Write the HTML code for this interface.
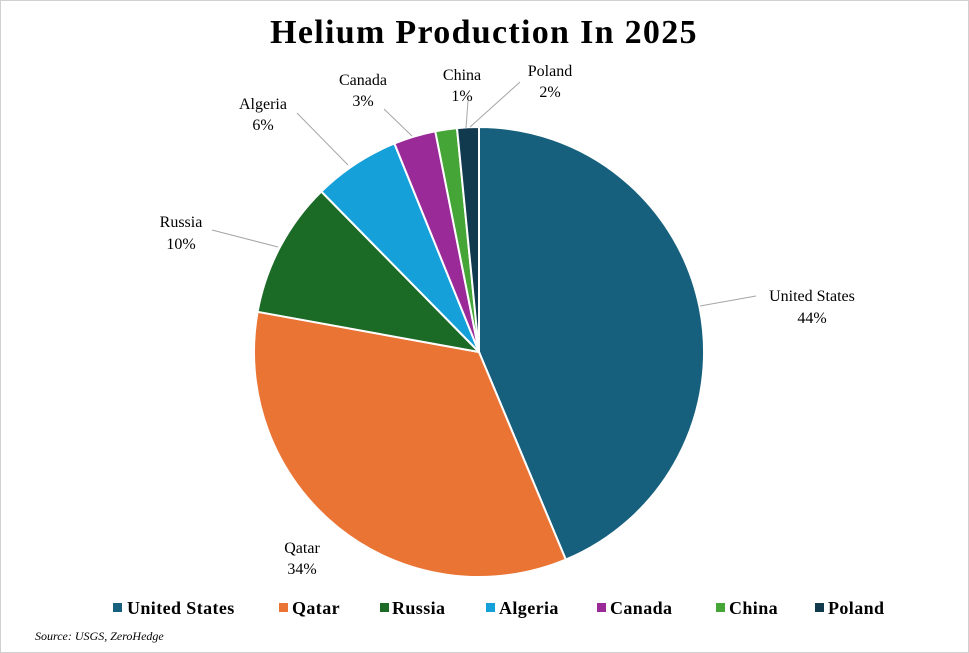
<!DOCTYPE html>
<html><head><meta charset="utf-8"><style>
html,body{margin:0;padding:0;background:#fff;}
svg{display:block;}
text{font-family:"Liberation Serif",serif;}
</style></head><body>
<svg width="969" height="653" viewBox="0 0 969 653" xmlns="http://www.w3.org/2000/svg">
<rect x="0.5" y="0.5" width="968" height="652" fill="#fff" stroke="#d0d0d0"/>
<text x="484" y="43" text-anchor="middle" font-size="34" font-weight="bold" letter-spacing="1.3" fill="#000">Helium Production In 2025</text>
<g stroke="#fff" stroke-width="2" stroke-linejoin="round">
<path d="M479,352 L479,127 A225,225 0 0 1 565.8,559.6 Z" fill="#17607D"/>
<path d="M479,352 L565.8,559.6 A225,225 0 0 1 257.6,311.8 Z" fill="#EA7434"/>
<path d="M479,352 L257.6,311.8 A225,225 0 0 1 321.3,191.5 Z" fill="#1B6B27"/>
<path d="M479,352 L321.3,191.5 A225,225 0 0 1 394.4,143.5 Z" fill="#15A0DA"/>
<path d="M479,352 L394.4,143.5 A225,225 0 0 1 435.3,131.3 Z" fill="#9B2A99"/>
<path d="M479,352 L435.3,131.3 A225,225 0 0 1 457.0,128.1 Z" fill="#46A537"/>
<path d="M479,352 L457.0,128.1 A225,225 0 0 1 479,127 Z" fill="#113A4E"/>
</g>
<g stroke="#a6a6a6" stroke-width="1" fill="none">
<path d="M700,306 L756,296"/>
<path d="M278,247 L212,230"/>
<path d="M348,165 L297,113"/>
<path d="M412,136 L384,109"/>
<path d="M466,128 L468,101"/>
<path d="M470,127 L520,82"/>
</g>
<g font-size="16" fill="#000" text-anchor="middle">
<text x="812" y="301">United States</text><text x="812" y="323">44%</text>
<text x="302" y="553">Qatar</text><text x="302" y="574">34%</text>
<text x="181" y="227">Russia</text><text x="181" y="249">10%</text>
<text x="263" y="109">Algeria</text><text x="263" y="130">6%</text>
<text x="363" y="85">Canada</text><text x="363" y="106">3%</text>
<text x="462" y="80">China</text><text x="462" y="101">1%</text>
<text x="550" y="76">Poland</text><text x="550" y="97">2%</text>
</g>
<g font-size="18" font-weight="bold" fill="#000" letter-spacing="0.4">
<rect x="113" y="603" width="9" height="9" fill="#17607D"/><text x="127" y="614">United States</text>
<rect x="279" y="603" width="9" height="9" fill="#EA7434"/><text x="292" y="614">Qatar</text>
<rect x="380" y="603" width="9" height="9" fill="#1B6B27"/><text x="392" y="614">Russia</text>
<rect x="486" y="603" width="9" height="9" fill="#15A0DA"/><text x="499" y="614">Algeria</text>
<rect x="597" y="603" width="9" height="9" fill="#9B2A99"/><text x="610" y="614">Canada</text>
<rect x="716" y="603" width="9" height="9" fill="#46A537"/><text x="729" y="614">China</text>
<rect x="815" y="603" width="9" height="9" fill="#113A4E"/><text x="828" y="614">Poland</text>
</g>
<text x="35" y="640" font-size="12" font-style="italic" fill="#000">Source: USGS, ZeroHedge</text>
</svg>
</body></html>
